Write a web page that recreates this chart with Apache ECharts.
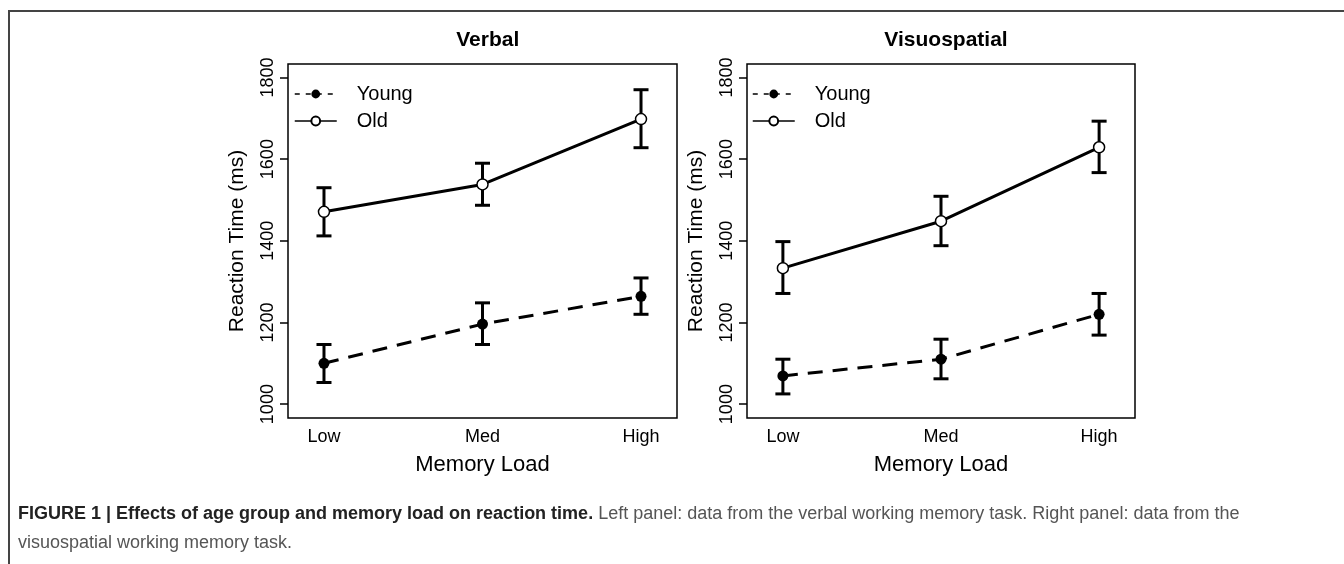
<!DOCTYPE html>
<html>
<head>
<meta charset="utf-8">
<script src="https://cdn.jsdelivr.net/npm/echarts@6/dist/echarts.min.js"></script>
<style>
	html, body { margin: 0; padding: 0; background: #fff; }
	#main { width: 1344px; height: 564px; }
</style>
</head>
<body>
<div id="main"></div>
<script>
var categories = ['Low', 'Med', 'High'];
var xPos = [1, 2, 3];
var yTicks = [1000, 1200, 1400, 1600, 1800];

// verbal task (left panel)
var verbalYoung = [1100, 1196, 1264];
var verbalYoungLo = [1053, 1146, 1220];
var verbalYoungHi = [1146, 1248, 1309];
var verbalOld = [1471, 1538, 1698];
var verbalOldLo = [1412, 1487, 1628];
var verbalOldHi = [1530, 1590, 1770];

// visuospatial task (right panel)
var visuoYoung = [1069, 1110, 1220];
var visuoYoungLo = [1025, 1062, 1169];
var visuoYoungHi = [1110, 1159, 1271];
var visuoOld = [1333, 1448, 1629];
var visuoOldLo = [1271, 1388, 1567];
var visuoOldHi = [1398, 1509, 1693];

var font = '"Liberation Sans", Arial, Helvetica, sans-serif';

function pts(vals) {
	var out = [];
	for (var i = 0; i < vals.length; i++) {
		out.push([xPos[i], vals[i]]);
	}
	return out;
}

function errData(lo, hi) {
	var out = [];
	for (var i = 0; i < lo.length; i++) {
		out.push([xPos[i], lo[i], hi[i]]);
	}
	return out;
}

// vertical bar with caps, from lo to hi
function renderErr(params, api) {
	var p1 = api.coord([api.value(0), api.value(1)]);
	var p2 = api.coord([api.value(0), api.value(2)]);
	var w = 7.5;
	var st = { stroke: '#000', lineWidth: 3 };
	return {
		type: 'group',
		children: [
			{ type: 'line', shape: { x1: p1[0], y1: p1[1], x2: p2[0], y2: p2[1] }, style: st },
			{ type: 'line', shape: { x1: p1[0] - w, y1: p1[1], x2: p1[0] + w, y2: p1[1] }, style: st },
			{ type: 'line', shape: { x1: p2[0] - w, y1: p2[1], x2: p2[0] + w, y2: p2[1] }, style: st }
		]
	};
}

function xAxisCfg(idx) {
	return {
		type: 'value', gridIndex: idx, min: 0.773, max: 3.227,
		axisLine: { show: false }, axisTick: { show: false }, splitLine: { show: false },
		axisLabel: {
			customValues: xPos, margin: 10, color: '#000', fontSize: 18, fontFamily: font,
			formatter: function(v) { return categories[Math.round(v) - 1]; }
		},
		name: 'Memory Load', nameLocation: 'middle', nameGap: 36,
		nameTextStyle: { fontSize: 22, color: '#000', fontFamily: font }
	};
}

function yAxisCfg(idx) {
	return {
		type: 'value', gridIndex: idx, min: 966, max: 1833,
		axisLine: { show: false }, splitLine: { show: false },
		axisTick: { show: true, customValues: yTicks, length: 8, lineStyle: { color: '#000', width: 1.5 } },
		axisLabel: {
			customValues: yTicks, rotate: 90, margin: 11, color: '#000', fontSize: 18, fontFamily: font,
			formatter: function(v) { return String(v); }
		},
		name: 'Reaction Time (ms)', nameLocation: 'middle', nameGap: 40, nameRotate: 90,
		nameTextStyle: { fontSize: 21, color: '#000', fontFamily: font }
	};
}

function panelSeries(idx, young, youngLo, youngHi, old, oldLo, oldHi) {
	return [
		{ type: 'custom', xAxisIndex: idx, yAxisIndex: idx, renderItem: renderErr, data: errData(youngLo, youngHi), z: 2 },
		{ type: 'custom', xAxisIndex: idx, yAxisIndex: idx, renderItem: renderErr, data: errData(oldLo, oldHi), z: 2 },
		{
			name: 'Young', type: 'line', xAxisIndex: idx, yAxisIndex: idx, data: pts(young),
			symbol: 'circle', symbolSize: 11, z: 3,
			lineStyle: { color: '#000', width: 3, type: [15, 10] },
			itemStyle: { color: '#000', borderWidth: 0 }
		},
		{
			name: 'Old', type: 'line', xAxisIndex: idx, yAxisIndex: idx, data: pts(old),
			symbol: 'circle', symbolSize: 11, z: 3,
			lineStyle: { color: '#000', width: 3 },
			itemStyle: { color: '#fff', borderColor: '#000', borderWidth: 1.5 }
		}
	];
}

function legendCfg(left) {
	return {
		left: left, top: 84, padding: 0, orient: 'vertical', itemWidth: 42, itemHeight: 11, itemGap: 7,
		selectedMode: false,
		textStyle: { fontSize: 20, color: '#000', fontFamily: font, lineHeight: 20, padding: [0, 0, 0, 15] },
		lineStyle: { width: 1.5 },
		data: [
			{ name: 'Young', lineStyle: { type: [5, 6], width: 1.5 } },
			{ name: 'Old', lineStyle: { width: 1.5 } }
		]
	};
}

var chart = echarts.init(document.getElementById('main'), null, { renderer: 'canvas' });

var option = {
	backgroundColor: '#fff',
	animation: false,
	title: [
		{ text: 'Verbal', left: 482.7, textAlign: 'center', top: 25, textStyle: { fontSize: 21, fontWeight: 'bold', color: '#000', fontFamily: font } },
		{ text: 'Visuospatial', left: 941, textAlign: 'center', top: 25, textStyle: { fontSize: 21, fontWeight: 'bold', color: '#000', fontFamily: font } }
	],
	legend: [legendCfg(294), legendCfg(752)],
	grid: [
		{ left: 288, top: 64, width: 389, height: 354, show: true, borderColor: '#000', borderWidth: 1.5, backgroundColor: 'transparent' },
		{ left: 747, top: 64, width: 388, height: 354, show: true, borderColor: '#000', borderWidth: 1.5, backgroundColor: 'transparent' }
	],
	xAxis: [xAxisCfg(0), xAxisCfg(1)],
	yAxis: [yAxisCfg(0), yAxisCfg(1)],
	series: panelSeries(0, verbalYoung, verbalYoungLo, verbalYoungHi, verbalOld, verbalOldLo, verbalOldHi)
		.concat(panelSeries(1, visuoYoung, visuoYoungLo, visuoYoungHi, visuoOld, visuoOldLo, visuoOldHi)),
	graphic: [
		{
			type: 'polyline', silent: true,
			shape: { points: [[9, 564], [9, 11], [1344, 11]] },
			style: { stroke: '#444', lineWidth: 2, fill: null }
		},
		{
			type: 'text', left: 18, top: 505, silent: true,
			style: {
				text: '{b|FIGURE 1 | Effects of age group and memory load on reaction time.}{n| Left panel: data from the verbal working memory task. Right panel: data from the}',
				font: '18px ' + font,
				rich: {
					b: { fontWeight: 'bold', fill: '#222', fontSize: 18, fontFamily: font },
					n: { fill: '#555', fontSize: 18, fontFamily: font }
				}
			}
		},
		{
			type: 'text', left: 18, top: 534, silent: true,
			style: { text: 'visuospatial working memory task.', font: '18px ' + font, fill: '#555' }
		}
	]
};

chart.setOption(option);
</script>
</body>
</html>
